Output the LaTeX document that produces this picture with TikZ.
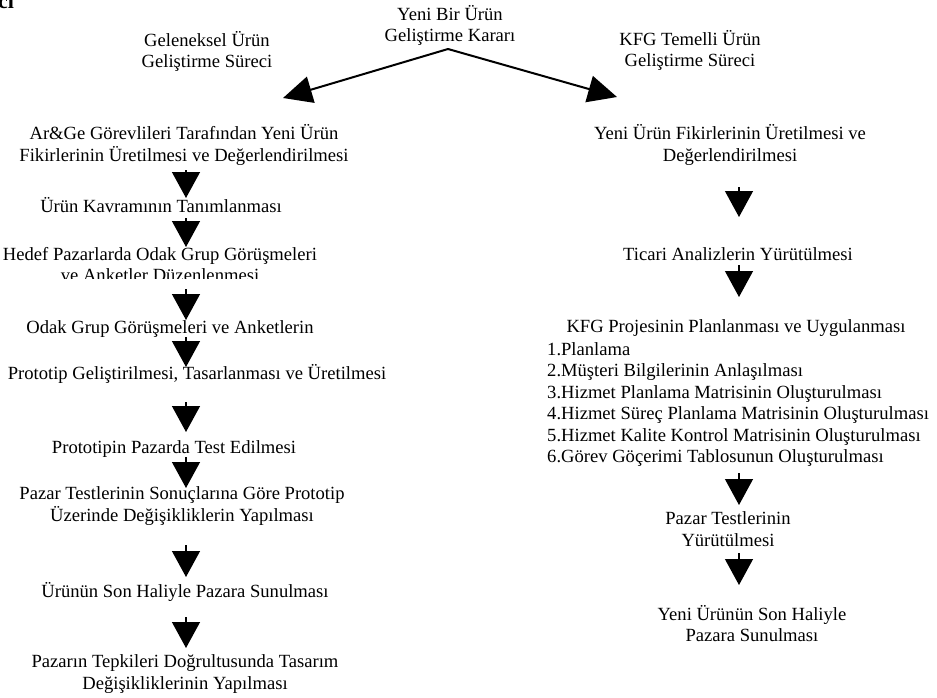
\documentclass[tikz,border=0pt]{standalone}
\usepackage{fontspec}
\setmainfont{Liberation Serif}
\usetikzlibrary{arrows.meta}
\begin{document}
\begin{tikzpicture}[x=1pt,y=-1pt,
  txt/.style={inner sep=0pt,align=center,anchor=base,font=\fontsize{18.6}{21.5}\selectfont},
  lst/.style={inner sep=0pt,align=left,anchor=base west,font=\fontsize{18.6}{21.5}\selectfont},
  down/.style={line width=1.3pt,-{Triangle[length=26pt,width=28pt]}},
  diag/.style={line width=2pt,-{Triangle[length=29pt,width=27pt]}}]
\useasboundingbox (0,0) rectangle (937,697);
% clipped title fragment
\node[inner sep=0pt,anchor=base west,font=\fontsize{22}{24}\selectfont\bfseries] (ttl) at (-2,8) {ci};
% top
\node[txt] (karar) at (450,41.5) {Yeni Bir Ürün\\Geliştirme Kararı};
\node[txt] (gel) at (207,67.5) {Geleneksel Ürün\\Geliştirme Süreci};
\node[txt] (kfg) at (690,66.5) {KFG Temelli Ürün\\Geliştirme Süreci};
\coordinate (apex) at (448,49);
% left column
\node[txt] (l1) at (184,161) {Ar\&Ge Görevlileri Tarafından Yeni Ürün\\Fikirlerinin Üretilmesi ve Değerlendirilmesi};
\node[txt] (l2) at (161,212) {Ürün Kavramının Tanımlanması};
\begin{scope}
\clip (0,235) rectangle (470,278.5);
\node[txt] (l3) at (160,281.5) {Hedef Pazarlarda Odak Grup Görüşmeleri\\ve Anketler Düzenlenmesi};
\end{scope}
\node[txt] (l4) at (170,333) {Odak Grup Görüşmeleri ve Anketlerin};
\node[txt] (l5) at (197,379) {Prototip Geliştirilmesi, Tasarlanması ve Üretilmesi};
\node[txt] (l6) at (174,453) {Prototipin Pazarda Test Edilmesi};
\node[txt] (l7) at (182,521) {Pazar Testlerinin Sonuçlarına Göre Prototip\\Üzerinde Değişikliklerin Yapılması};
\node[txt] (l8) at (185,597) {Ürünün Son Haliyle Pazara Sunulması};
\node[txt] (l9) at (185,689) {Pazarın Tepkileri Doğrultusunda Tasarım\\Değişikliklerinin Yapılması};
% right column
\node[txt] (r1) at (730,161) {Yeni Ürün Fikirlerinin Üretilmesi ve\\Değerlendirilmesi};
\node[txt] (r2) at (738,260) {Ticari Analizlerin Yürütülmesi};
\node[txt] (r3) at (736,332) {KFG Projesinin Planlanması ve Uygulanması};
\node[lst] (r3l) at (547,462.5) {1.Planlama\\2.Müşteri Bilgilerinin Anlaşılması\\3.Hizmet Planlama Matrisinin Oluşturulması\\4.Hizmet Süreç Planlama Matrisinin Oluşturulması\\5.Hizmet Kalite Kontrol Matrisinin Oluşturulması\\6.Görev Göçerimi Tablosunun Oluşturulması};
\node[txt] (r4) at (728,546) {Pazar Testlerinin\\Yürütülmesi};
\node[txt] (r5) at (752,641.5) {Yeni Ürünün Son Haliyle\\Pazara Sunulması};
% arrow end points
\coordinate (lt) at (283,98);
\coordinate (rt) at (617,97);
\foreach \n/\a/\b in {1/170/198,2/218/247,3/289/320,4/337/367,5/402/432,6/457/488,7/545/577,8/617/648}{
  \coordinate (la\n) at (186,\a);
  \coordinate (lb\n) at (186,\b);
}
\foreach \n/\a/\b in {1/187/217,2/265/297,3/473/505,4/553/585}{
  \coordinate (ra\n) at (739,\a);
  \coordinate (rb\n) at (739,\b);
}
\draw[diag] (apex) -- (lt);
\draw[diag] (apex) -- (rt);
\foreach \n in {1,...,8}{\draw[down] (la\n) -- (lb\n);}
\foreach \n in {1,...,4}{\draw[down] (ra\n) -- (rb\n);}
\end{tikzpicture}
\end{document}
